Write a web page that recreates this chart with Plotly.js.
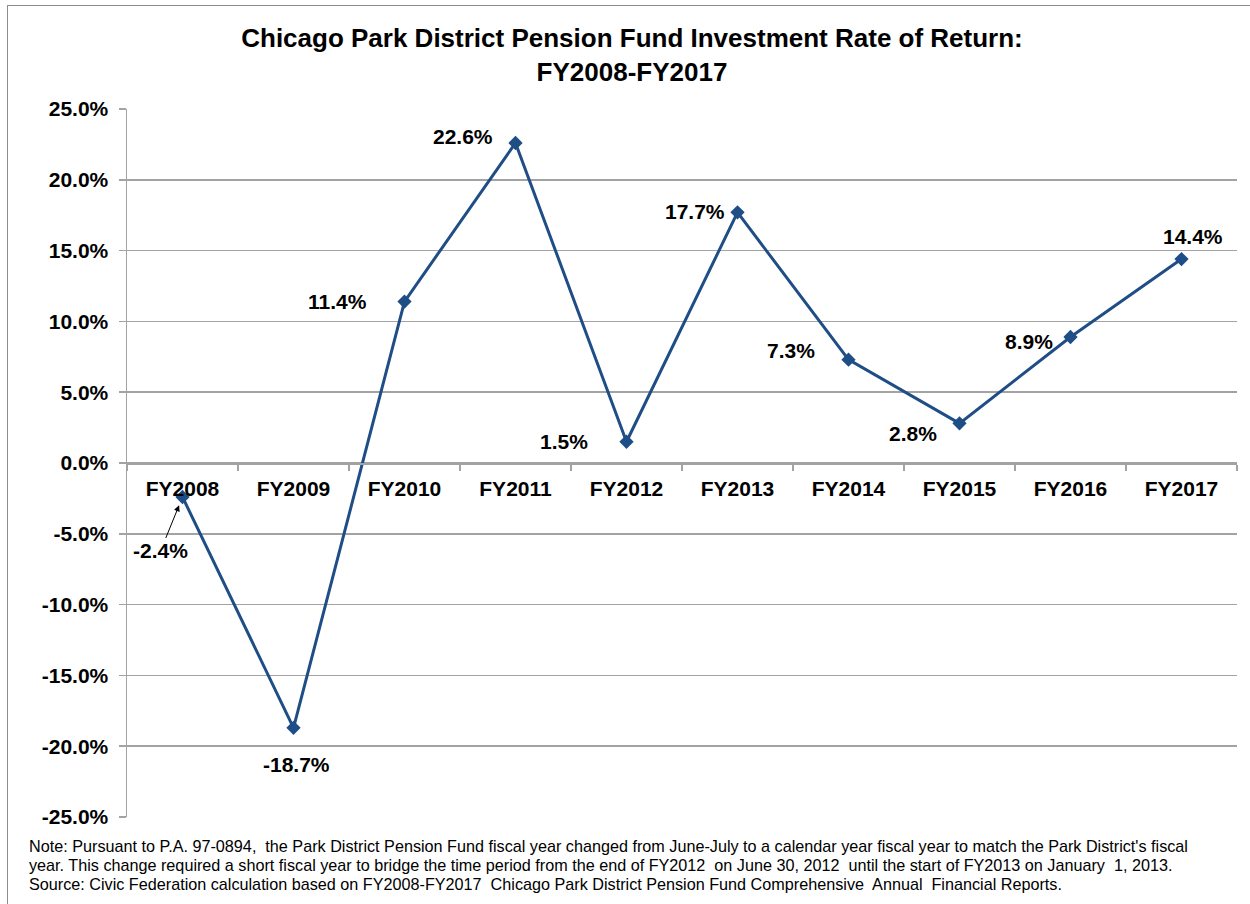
<!DOCTYPE html>
<html>
<head>
<meta charset="utf-8">
<script src="https://cdn.plot.ly/plotly-3.0.1.min.js"></script>
<style>
  html, body { margin: 0; padding: 0; background: #fff; overflow: hidden; }
  #wrap { position: relative; width: 1250px; height: 904px; }
  #chart { position: absolute; left: 0; top: 0; width: 1250px; height: 904px; }
  #frame { position: absolute; left: 7px; top: 5px; width: 1260px; height: 920px;
           border-left: 1px solid #8c8c8c; border-top: 1px solid #8c8c8c; pointer-events: none; }
</style>
</head>
<body>
<div id="wrap">
  <div id="chart"></div>
  <div id="frame"></div>
</div>
<script>
// ---- data ----
const years = ["FY2008","FY2009","FY2010","FY2011","FY2012","FY2013","FY2014","FY2015","FY2016","FY2017"];
const returns = [-2.4, -18.7, 11.4, 22.6, 1.5, 17.7, 7.3, 2.8, 8.9, 14.4];
const yTicks = [-25, -20, -15, -10, -5, 0, 5, 10, 15, 20, 25];
const titleText = "Chicago Park District Pension Fund Investment Rate of Return:<br>FY2008-FY2017";
const noteLines = [
  "Note: Pursuant to P.A. 97-0894,  the Park District Pension Fund fiscal year changed from June-July to a calendar year fiscal year to match the Park District's fiscal",
  "year. This change required a short fiscal year to bridge the time period from the end of FY2012  on June 30, 2012  until the start of FY2013 on January  1, 2013.",
  "Source: Civic Federation calculation based on FY2008-FY2017  Chicago Park District Pension Fund Comprehensive  Annual  Financial Reports."
];

// ---- styles (label offsets in px relative to each point) ----
const labelDx = [-22, 3, -67, -53, -63, -43, -58, -47, -42, 11];
const labelDy = [54, 37, 0, -6, 0, -1, -9, 10, 5, -23];

const FONT = "Arial, 'Liberation Sans', sans-serif";
const LINE = "#1f4e86";
const GRID = "#a3a3a3";

const plotL = 127, plotR = 1237, plotT = 109, plotB = 817;
const px2x = p => (p - plotL) / (plotR - plotL);
const px2y = p => (plotB - p) / (plotB - plotT);

const fmt = v => v.toFixed(1) + "%";

const annotations = returns.map((v, i) => {
  const a = {
    x: years[i], y: v, xref: "x", yref: "y",
    text: fmt(v),
    font: { family: FONT, size: 21, color: "#000", weight: "bold" },
    xanchor: "center", yanchor: "middle"
  };
  if (i === 0) {
    Object.assign(a, {
      showarrow: true, ax: labelDx[i], ay: labelDy[i],
      arrowhead: 2, arrowsize: 1.2, arrowwidth: 1, arrowcolor: "#000", standoff: 9
    });
  } else {
    Object.assign(a, { showarrow: false, xshift: labelDx[i], yshift: -labelDy[i] });
  }
  return a;
});

const noteY = [846, 865, 884];
noteLines.forEach((t, i) => {
  annotations.push({
    xref: "paper", yref: "paper", x: px2x(27), y: px2y(noteY[i]),
    xanchor: "left", yanchor: "middle", showarrow: false, align: "left",
    text: t, font: { family: FONT, size: 16.2, color: "#000" }
  });
});

const trace = {
  type: "scatter", mode: "lines+markers",
  x: years, y: returns,
  line: { color: LINE, width: 3 },
  marker: { symbol: "diamond", size: 11, color: LINE },
  hoverinfo: "x+y", cliponaxis: false
};

const layout = {
  width: 1250, height: 904,
  margin: { l: plotL, r: 1250 - plotR, t: plotT, b: 904 - plotB, pad: 0 },
  paper_bgcolor: "#fff", plot_bgcolor: "#fff",
  showlegend: false,
  title: {
    text: titleText,
    font: { family: FONT, size: 26, color: "#000", weight: "bold" },
    x: 632 / 1250, xanchor: "center", xref: "container",
    y: 1 - 47 / 904, yanchor: "top", yref: "container"
  },
  xaxis: {
    type: "category",
    anchor: "free", position: 0.5,
    showline: true, linecolor: GRID, linewidth: 1.5,
    showgrid: false, zeroline: false,
    ticks: "outside", tickson: "boundaries", ticklen: 6, tickcolor: GRID, tickwidth: 1.5,
    ticklabelstandoff: 6,
    tickfont: { family: FONT, size: 21, color: "#000", weight: "bold" },
    range: [-0.5, years.length - 0.5], fixedrange: true
  },
  yaxis: {
    range: [-25, 25],
    tickvals: yTicks, ticktext: yTicks.map(fmt),
    showline: true, linecolor: GRID, linewidth: 1.5,
    showgrid: true, gridcolor: GRID, gridwidth: 1.5, zeroline: false,
    ticks: "outside", ticklen: 7, tickcolor: GRID, tickwidth: 1.5,
    ticklabelstandoff: 6,
    tickfont: { family: FONT, size: 21, color: "#000", weight: "bold" },
    fixedrange: true
  },
  annotations: annotations
};

Plotly.newPlot("chart", [trace], layout, { displayModeBar: false, staticPlot: true });
</script>
</body>
</html>
